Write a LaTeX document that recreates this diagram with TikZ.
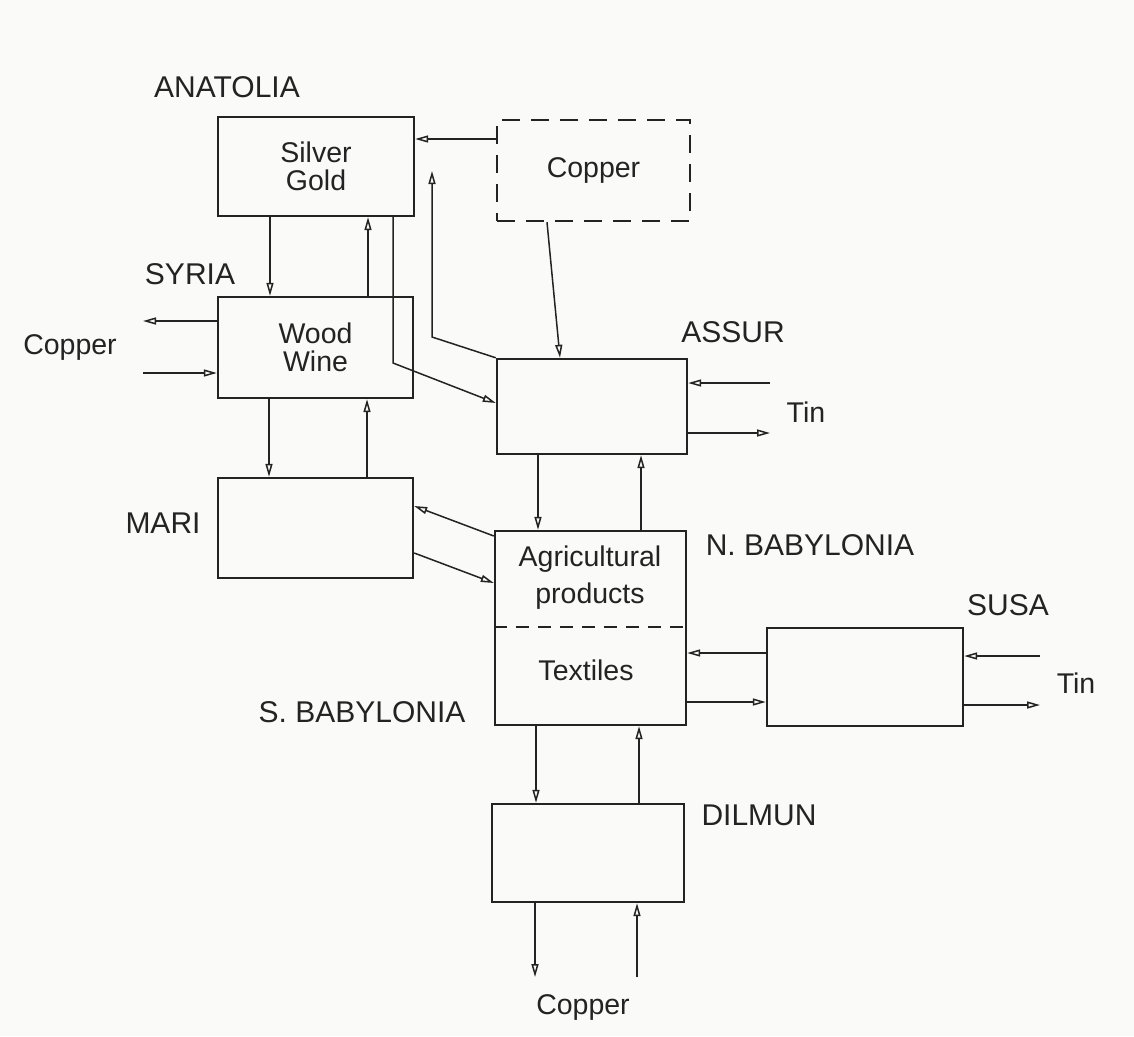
\documentclass[tikz,border=0pt]{standalone}
\usepackage{fontspec}
\setmainfont{Liberation Sans}
\usetikzlibrary{arrows.meta}
\definecolor{ink}{RGB}{35,35,35}
\definecolor{paper}{RGB}{250,250,248}
\newcommand\myboxfont{\fontsize{28.5}{28}\selectfont}
\newcommand\mylabfont{\fontsize{30}{32}\selectfont}
\begin{document}
\begin{tikzpicture}[x=1pt,y=-1pt,
  box/.style={draw=ink, line width=2.4pt, inner sep=0pt, align=center, text=ink, font=\myboxfont},
  conn/.style={draw=ink, line width=1.5pt, -{Triangle[open,length=13pt,width=7pt]}},
  lab/.style={font=\mylabfont, text=ink, inner sep=0pt},
  txt/.style={font=\myboxfont, text=ink, inner sep=0pt, align=center}]
\fill[paper] (0,0) rectangle (1134,1036);
\useasboundingbox (0,0) rectangle (1134,1036);

% boxes
\node[box, minimum width=196pt, minimum height=99pt] (ana) at (316,166.5) {Silver\\Gold};
\node[box, dashed, dash pattern=on 18pt off 11pt, minimum width=193pt, minimum height=101pt] (cop) at (593.5,170.5) {Copper};
\node[box, minimum width=195pt, minimum height=101pt] (syr) at (315.5,347.5) {Wood\\Wine};
\node[box, minimum width=190pt, minimum height=95pt] (ass) at (592,406.5) {};
\node[box, minimum width=195pt, minimum height=100pt] (mar) at (315.5,528) {};
\node[box, minimum width=191pt, minimum height=194pt] (bab) at (590.5,628) {};
\node[box, minimum width=196pt, minimum height=98pt] (sus) at (865,677) {};
\node[box, minimum width=192pt, minimum height=98pt] (dil) at (588,853) {};

% texts inside Babylonia
\node[txt, font=\fontsize{28.5}{37}\selectfont] (agri) at (590,578) {Agricultural\\products};
\node[txt] (texl) at (586,670) {Textiles};
\draw[ink, line width=1.5pt, dash pattern=on 13pt off 9pt] (bab.west |- 0,627) -- (bab.east |- 0,627);

% labels
\node[lab] (lana) at (227,87) {ANATOLIA};
\node[lab] (lsyr) at (190,274) {SYRIA};
\node[lab] (lass) at (733,332) {ASSUR};
\node[lab] (lmar) at (163,523) {MARI};
\node[lab] (lnb) at (810,545) {N. BABYLONIA};
\node[lab] (lsb) at (362,712) {S. BABYLONIA};
\node[lab] (lsus) at (1008,605) {SUSA};
\node[lab] (ldil) at (759,815) {DILMUN};
\node[txt] (tcopw) at (70,348) {Copper};
\node[txt] (ttina) at (806,412) {Tin};
\node[txt] (ttins) at (1076,683) {Tin};
\node[txt] (tcops) at (583,1007) {Copper};

% free ends and bends
\coordinate (cwo) at (143,321);
\coordinate (cwi) at (143,373);
\coordinate (tai) at (770,383);
\coordinate (tao) at (770,433);
\coordinate (tsi) at (1040,656);
\coordinate (tso) at (1040,705);
\coordinate (cdo) at (535,977);
\coordinate (cdi) at (637,977);
\coordinate (b1) at (393,363);
\coordinate (b2) at (432,337);
\coordinate (e2) at (432,171);

% connectors
\draw[conn] (cop.west |- 0,139) -- (ana.east |- 0,139);
\draw[conn] (270,0 |- ana.south) -- (270,0 |- syr.north);
\draw[conn] (368,0 |- syr.north) -- (368,0 |- ana.south);
\draw[conn] (393,0 |- ana.south) -- (b1) -- (ass.west |- 0,403);
\draw[conn] (ass.north west) -- (b2) -- (e2);
\draw[conn] (547,0 |- cop.south) -- (560,0 |- ass.north);
\draw[conn] (syr.west |- cwo) -- (cwo);
\draw[conn] (cwi) -- (syr.west |- cwi);
\draw[conn] (269,0 |- syr.south) -- (269,0 |- mar.north);
\draw[conn] (367,0 |- mar.north) -- (367,0 |- syr.south);
\draw[conn] (538,0 |- ass.south) -- (538,0 |- bab.north);
\draw[conn] (641,0 |- bab.north) -- (641,0 |- ass.south);
\draw[conn] (tai) -- (ass.east |- tai);
\draw[conn] (ass.east |- tao) -- (tao);
\draw[conn] (bab.west |- 0,536) -- (mar.east |- 0,506);
\draw[conn] (mar.east |- 0,553) -- (bab.west |- 0,583);
\draw[conn] (sus.west |- 0,653) -- (bab.east |- 0,653);
\draw[conn] (bab.east |- 0,702) -- (sus.west |- 0,702);
\draw[conn] (tsi) -- (sus.east |- tsi);
\draw[conn] (sus.east |- tso) -- (tso);
\draw[conn] (536,0 |- bab.south) -- (536,0 |- dil.north);
\draw[conn] (639,0 |- dil.north) -- (639,0 |- bab.south);
\draw[conn] (535,0 |- dil.south) -- (cdo);
\draw[conn] (cdi) -- (637,0 |- dil.south);
\end{tikzpicture}
\end{document}
